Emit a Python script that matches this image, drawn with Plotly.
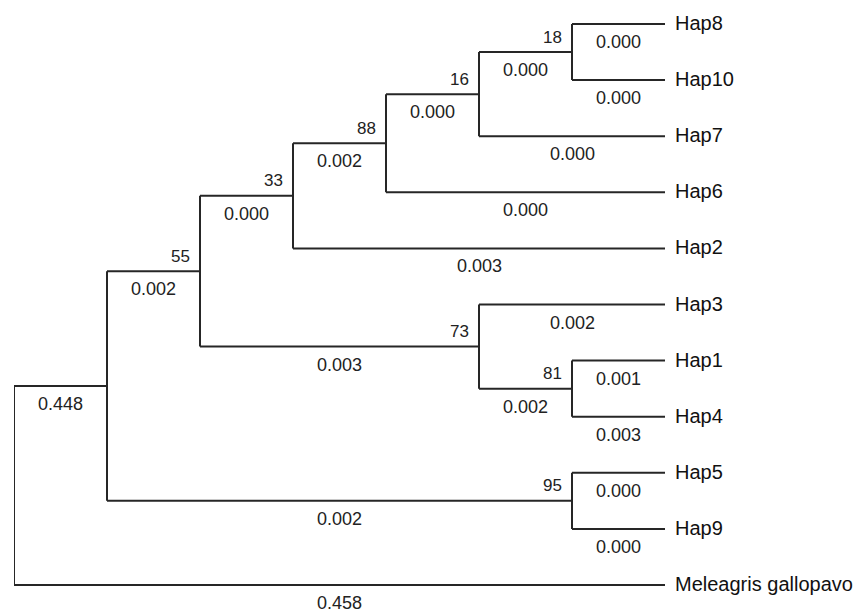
import plotly.graph_objects as go

# ---- data ----
tip_labels = ["Hap8", "Hap10", "Hap7", "Hap6", "Hap2", "Hap3", "Hap1", "Hap4",
              "Hap5", "Hap9", "Meleagris gallopavo"]
tip_branch_lengths = ["0.000", "0.000", "0.000", "0.000", "0.003", "0.002",
                      "0.001", "0.003", "0.000", "0.000", "0.458"]

node_ids = ["N18", "N16", "N88", "N33", "N81", "N73", "N55", "N95", "N448", "root"]
node_children = [
    ["Hap8", "Hap10"],
    ["N18", "Hap7"],
    ["N16", "Hap6"],
    ["N88", "Hap2"],
    ["Hap1", "Hap4"],
    ["Hap3", "N81"],
    ["N33", "N73"],
    ["Hap5", "Hap9"],
    ["N55", "N95"],
    ["N448", "Meleagris gallopavo"],
]
node_bootstrap = ["18", "16", "88", "33", "81", "73", "55", "95", "", ""]
node_branch_lengths = ["0.000", "0.000", "0.002", "0.000", "0.002", "0.003",
                       "0.002", "0.002", "0.448", ""]

# ---- layout computation (topology-only cladogram) ----
children = dict(zip(node_ids, node_children))
blen = dict(zip(tip_labels, tip_branch_lengths))
blen.update(dict(zip(node_ids, node_branch_lengths)))
boot = dict(zip(node_ids, node_bootstrap))

X, Y = {}, {}
for i, t in enumerate(tip_labels):
    X[t] = 0.0
    Y[t] = float(i)


def place(n):
    if n in X:
        return
    for c in children[n]:
        place(c)
    X[n] = min(X[c] for c in children[n]) - 1
    Y[n] = (Y[children[n][0]] + Y[children[n][-1]]) / 2


place("root")

LINE = "#262626"
FONT = "Liberation Sans, Arial, sans-serif"
xs, ys = [], []
ann = []
for n in node_ids:
    kids = children[n]
    # vertical connector
    xs += [X[n], X[n], None]
    ys += [Y[kids[0]], Y[kids[-1]], None]
    for c in kids:
        xs += [X[n], X[c], None]
        ys += [Y[c], Y[c], None]
        if blen.get(c):
            ann.append(dict(x=(X[n] + X[c]) / 2, y=Y[c], text=blen[c],
                            yshift=-18, xanchor="center", yanchor="middle",
                            font=dict(size=18, family=FONT, color="#222")))
    if boot[n]:
        ann.append(dict(x=X[n], y=Y[n], text=boot[n], xshift=-8, yshift=15,
                        xanchor="right", yanchor="middle",
                        font=dict(size=17, family=FONT, color="#222")))

for t in tip_labels:
    ann.append(dict(x=X[t], y=Y[t], text=t, xshift=8, yshift=1,
                    xanchor="left", yanchor="middle",
                    font=dict(size=20, family=FONT, color="#111")))

for a in ann:
    a.update(showarrow=False, xref="x", yref="y")

fig = go.Figure(go.Scatter(x=xs, y=ys, mode="lines",
                           line=dict(color=LINE, width=2),
                           hoverinfo="skip", showlegend=False))

# page body has an 8px margin, so the figure is offset by 8px
W, H = 858, 606
left_px, tip_px = 6, 657
step = (tip_px - left_px) / 7.0
x_lo = -7.0
x_hi = (W - left_px) / step + x_lo
top_px, bot_px = 16, 577
ystep = (bot_px - top_px) / 10.0
y_top = -top_px / ystep
y_bot = (H - top_px) / ystep

fig.update_layout(
    width=W, height=H,
    margin=dict(l=left_px, r=0, t=0, b=0),
    paper_bgcolor="white", plot_bgcolor="white",
    xaxis=dict(range=[x_lo, x_hi], visible=False, fixedrange=True),
    yaxis=dict(range=[y_bot, y_top], visible=False, fixedrange=True),
    annotations=ann,
    showlegend=False,
)

fig.write_html("out.html")
